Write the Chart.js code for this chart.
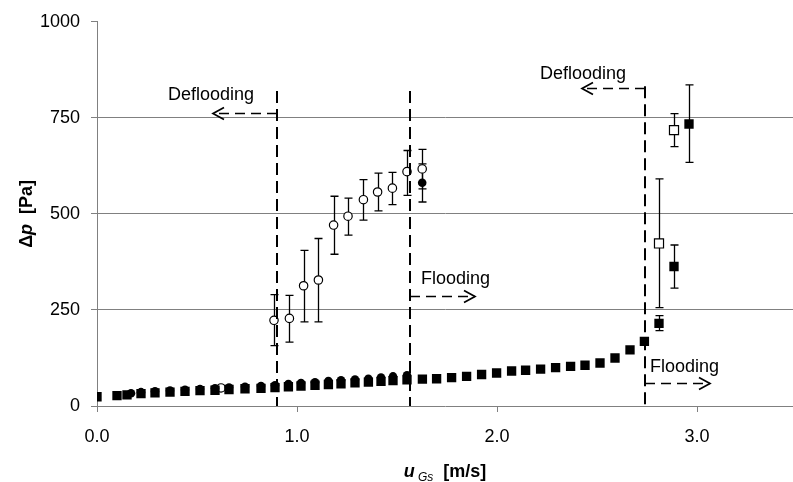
<!DOCTYPE html>
<html>
<head>
<meta charset="utf-8">
<script src="https://cdn.jsdelivr.net/npm/chart.js@4.4.1/dist/chart.umd.min.js"></script>
<style>
  html, body { margin: 0; padding: 0; background: #fff; }
  #wrap { width: 793px; height: 482px; }
</style>
</head>
<body>
<div id="wrap"><canvas id="c" width="793" height="482"></canvas></div>
<script>
// ---- Data (u_Gs in m/s, Δp in Pa) ----
// Flooding, filled squares
const fsU = [0, 0.10, 0.15, 0.22, 0.29, 0.365, 0.44, 0.515, 0.59, 0.66, 0.74, 0.82, 0.89, 0.957, 1.02, 1.09, 1.157, 1.22, 1.29, 1.357, 1.42, 1.48, 1.55,
             1.627, 1.698, 1.773, 1.848, 1.923, 1.998, 2.073, 2.143, 2.218, 2.293, 2.368, 2.44, 2.515, 2.59, 2.665, 2.737, 2.81, 2.885, 2.96];
const fsP = [24, 27, 29, 32, 34, 36, 38, 40, 41, 43, 45, 46, 48, 50, 52, 54, 56, 58, 60, 62, 64, 66, 68,
             70, 71, 74, 77, 82, 86, 91, 93, 96, 100, 103, 106, 112, 125, 146, 168, 215, 363, 734];
const fsBarU  = [2.81, 2.885, 2.96];
const fsBarLo = [196, 307, 634];
const fsBarHi = [235, 419, 836];

// Deflooding, open squares
const osU  = [2.81, 2.885];
const osP  = [423, 718];
const osLo = [256, 675];
const osHi = [591, 761];

// Flooding, filled circles
const fcU = [0.17, 0.22, 0.29, 0.365, 0.44, 0.515, 0.59, 0.66, 0.74, 0.82, 0.89, 0.957, 1.02, 1.09, 1.157, 1.22, 1.29, 1.357, 1.42, 1.48, 1.55, 1.626];
const fcP = [33, 36, 38, 40, 42, 44, 46, 48, 50, 52, 54, 57, 60, 62, 65, 67, 69, 71, 74, 77, 80, 581];
const fcBarU  = [1.626];
const fcBarLo = [531];
const fcBarHi = [630];

// Deflooding, open circles
const ocU  = [0.62, 0.885, 0.962, 1.033, 1.107, 1.183, 1.255, 1.332, 1.403, 1.477, 1.55, 1.626];
const ocP  = [47, 223, 228, 313, 328, 471, 494, 537, 557, 567, 610, 617];
const ocLo = [null, 157, 166, 219, 219, 395, 445, 484, 508, 524, 548, 565];
const ocHi = [null, 290, 288, 405, 436, 546, 541, 589, 606, 608, 665, 668];

// Axis ticks
const xTicks = [0, 1, 2, 3];
const xTickLabels = ['0.0', '1.0', '2.0', '3.0'];
const yTicks = [0, 250, 500, 750, 1000];
const yTickLabels = ['0', '250', '500', '750', '1000'];

// Annotation texts
const labelDeflooding = 'Deflooding';
const labelFlooding = 'Flooding';

// ---- helpers ----
const pts = (xs, ys) => xs.map((u, i) => ({ x: u, y: ys[i] }));
const bars = (xs, lo, hi) => xs.map((u, i) => ({ u, lo: lo[i], hi: hi[i] })).filter(b => b.lo != null);

const errorBars = [
  ...bars(fsBarU, fsBarLo, fsBarHi),
  ...bars(osU, osLo, osHi),
  ...bars(fcBarU, fcBarLo, fcBarHi),
  ...bars(ocU, ocLo, ocHi)
];

// annotation layout (data units)
const vLines = [ { u: 0.90, top: 820 }, { u: 1.565, top: 820 }, { u: 2.74, top: 832 } ];
const arrows = [
  { y: 763, from: 0.90, to: 0.58 },
  { y: 286, from: 1.565, to: 1.89 },
  { y: 827, from: 2.74, to: 2.425 },
  { y: 59,  from: 2.74, to: 3.065 }
];
const texts = [
  { t: labelDeflooding, u: 0.355, p: 797 },
  { t: labelFlooding,   u: 1.62,  p: 317 },
  { t: labelDeflooding, u: 2.215, p: 852 },
  { t: labelFlooding,   u: 2.765, p: 88 }
];

const FONT = "'Liberation Sans', Arial, sans-serif";

const extras = {
  id: 'extras',
  beforeDatasetsDraw(chart) {
    const { ctx, scales: { x, y } } = chart;
    ctx.save();
    ctx.strokeStyle = '#000';
    ctx.lineWidth = 1.3;
    errorBars.forEach(b => {
      const px = Math.round(x.getPixelForValue(b.u)) + 0.5;
      const y1 = y.getPixelForValue(b.lo), y2 = y.getPixelForValue(b.hi);
      ctx.beginPath();
      ctx.moveTo(px, y1); ctx.lineTo(px, y2);
      ctx.moveTo(px - 4, y1); ctx.lineTo(px + 4, y1);
      ctx.moveTo(px - 4, y2); ctx.lineTo(px + 4, y2);
      ctx.stroke();
    });
    ctx.restore();
  },
  afterDraw(chart) {
    const { ctx, scales: { x, y } } = chart;
    ctx.save();
    ctx.strokeStyle = '#000';
    ctx.lineWidth = 2;
    ctx.setLineDash([12, 6]);
    vLines.forEach(v => {
      const px = x.getPixelForValue(v.u);
      ctx.beginPath();
      ctx.moveTo(px, y.getPixelForValue(v.top));
      ctx.lineTo(px, y.getPixelForValue(0));
      ctx.stroke();
    });
    arrows.forEach(a => {
      const py = Math.round(y.getPixelForValue(a.y)) + 0.5;
      const x0 = x.getPixelForValue(a.from), x1 = x.getPixelForValue(a.to);
      const dir = Math.sign(x1 - x0);
      ctx.lineWidth = 1.7;
      ctx.setLineDash([10, 6]);
      ctx.beginPath(); ctx.moveTo(x0, py); ctx.lineTo(x1, py); ctx.stroke();
      ctx.setLineDash([]);
      ctx.beginPath();
      ctx.moveTo(x1 - dir * 11, py - 6); ctx.lineTo(x1, py); ctx.lineTo(x1 - dir * 11, py + 6);
      ctx.stroke();
    });
    ctx.setLineDash([]);
    ctx.fillStyle = '#000';
    ctx.font = '18px ' + FONT;
    ctx.textAlign = 'left';
    ctx.textBaseline = 'alphabetic';
    texts.forEach(t => ctx.fillText(t.t, x.getPixelForValue(t.u), y.getPixelForValue(t.p)));

    // x tick labels
    ctx.font = '18px ' + FONT;
    ctx.textAlign = 'center';
    ctx.textBaseline = 'middle';
    xTicks.forEach((v, i) => ctx.fillText(xTickLabels[i], x.getPixelForValue(v), 437));

    // x axis title: u_Gs [m/s]
    ctx.textAlign = 'left';
    ctx.textBaseline = 'alphabetic';
    const parts = [
      { s: 'u', f: 'italic bold 18px ' + FONT, dy: 0 },
      { s: ' Gs', f: 'italic 12px ' + FONT, dy: 4 },
      { s: '  [m/s]', f: 'bold 18px ' + FONT, dy: 0 }
    ];
    let w = 0;
    parts.forEach(p => { ctx.font = p.f; p.w = ctx.measureText(p.s).width; w += p.w; });
    let cx = (chart.chartArea.left + chart.chartArea.right) / 2 - w / 2;
    parts.forEach(p => { ctx.font = p.f; ctx.fillText(p.s, cx, 477 + p.dy); cx += p.w; });

    // y axis title: Δp [Pa]
    const yparts = [
      { s: 'Δ', f: 'bold 18px ' + FONT },
      { s: 'p', f: 'italic bold 18px ' + FONT },
      { s: '  [Pa]', f: 'bold 18px ' + FONT }
    ];
    let wy = 0;
    yparts.forEach(p => { ctx.font = p.f; p.w = ctx.measureText(p.s).width; wy += p.w; });
    ctx.translate(27, (chart.chartArea.top + chart.chartArea.bottom) / 2);
    ctx.rotate(-Math.PI / 2);
    ctx.textBaseline = 'middle';
    let cy = -wy / 2;
    yparts.forEach(p => { ctx.font = p.f; ctx.fillText(p.s, cy, 0); cy += p.w; });
    ctx.restore();
  }
};

new Chart(document.getElementById('c'), {
  type: 'scatter',
  data: {
    datasets: [
      { label: 'flood sq', data: pts(fsU, fsP), pointStyle: 'rect', pointRadius: 6.6, pointHoverRadius: 6.6,
        backgroundColor: '#000', borderColor: '#000', borderWidth: 0 },
      { label: 'flood circ', data: pts(fcU, fcP), pointStyle: 'circle', pointRadius: 4.3, pointHoverRadius: 4.3,
        backgroundColor: '#000', borderColor: '#000', borderWidth: 0 },
      { label: 'deflood sq', data: pts(osU, osP), pointStyle: 'rect', pointRadius: 6.4, pointHoverRadius: 6.4,
        backgroundColor: '#fff', borderColor: '#000', borderWidth: 1.2 },
      { label: 'deflood circ', data: pts(ocU, ocP), pointStyle: 'circle', pointRadius: 4.2, pointHoverRadius: 4.2,
        backgroundColor: '#fff', borderColor: '#000', borderWidth: 1.2 }
    ]
  },
  options: {
    responsive: false,
    animation: false,
    events: [],
    layout: { autoPadding: false, padding: { top: 18, right: 0, left: 0, bottom: 0 } },
    plugins: { legend: { display: false }, tooltip: { enabled: false } },
    scales: {
      x: {
        type: 'linear', min: 0, max: 3.48,
        afterBuildTicks: s => { s.ticks = xTicks.map(v => ({ value: v })); },
        afterFit: s => { s.height = 76; },
        grid: { drawOnChartArea: false, drawTicks: true, tickLength: 6, color: '#808080', tickColor: '#808080' },
        border: { color: '#808080', width: 1 },
        ticks: { display: false }
      },
      y: {
        type: 'linear', min: 0, max: 1000,
        afterBuildTicks: s => { s.ticks = yTicks.map(v => ({ value: v })); },
        afterFit: s => { s.width = 97; },
        grid: { color: (c) => (c.tick && (c.tick.value === 1000 || c.tick.value === 0)) ? 'rgba(0,0,0,0)' : '#808080',
                tickColor: '#808080', tickLength: 6, lineWidth: 1 },
        border: { color: '#808080', width: 1 },
        ticks: { font: { family: FONT, size: 18 }, color: '#000', padding: 11,
                 callback: (v) => { const i = yTicks.indexOf(v); return i >= 0 ? yTickLabels[i] : ''; } }
      }
    }
  },
  plugins: [extras]
});
</script>
</body>
</html>
